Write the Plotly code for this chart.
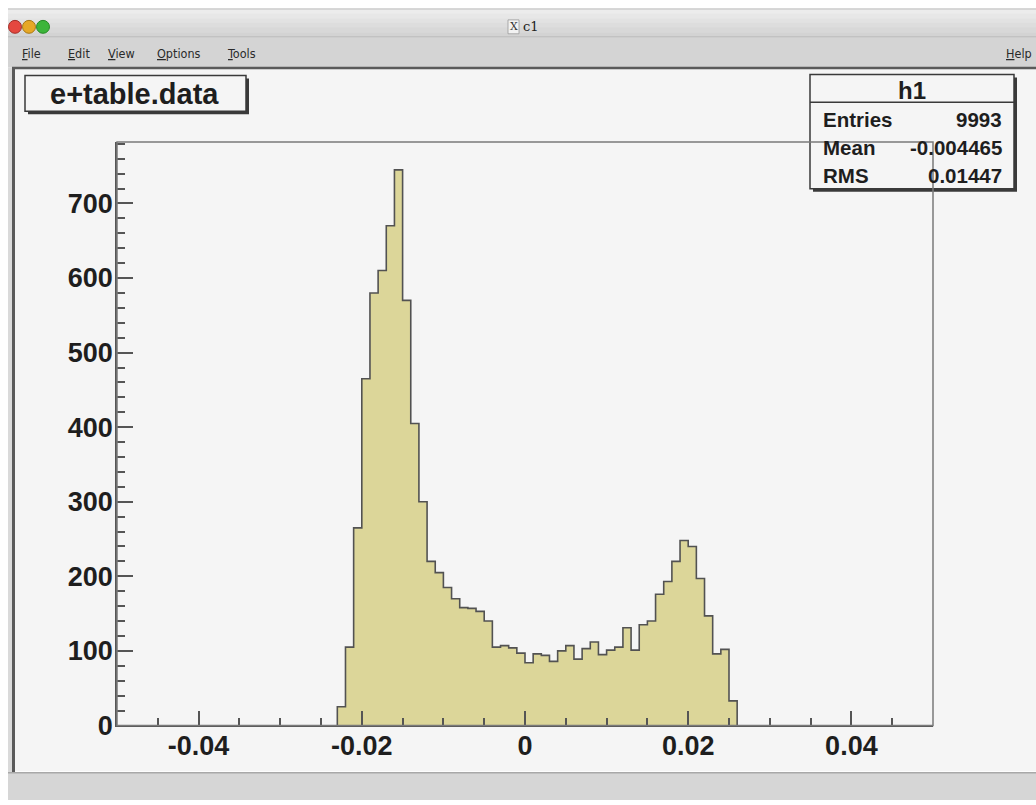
import numpy as np
import plotly.graph_objects as go

# ---- histogram h1: 100 bins on [-0.05, 0.05]; non-empty bins listed from x_first_bin ----
x_min, x_max, n_bins = -0.05, 0.05, 100
x_first_bin = -0.023
counts = [
    25, 105, 265, 465, 580, 610, 670, 745, 570, 405,
    300, 220, 205, 185, 170, 158, 157, 153, 140, 105,
    107, 104, 97, 84, 96, 94, 86, 100, 107, 89,
    103, 112, 95, 101, 105, 131, 101, 135, 140, 176,
    193, 220, 248, 240, 197, 147, 96, 102, 33,
]
stat_names = ["Entries", "Mean", "RMS"]
stat_values = ["9993", "-0.004465", "0.01447"]
hist_name = "h1"
pave_title = "e+table.data"
x_tick_vals = [-0.04, -0.02, 0, 0.02, 0.04]
x_tick_text = ["-0.04", "-0.02", "0", "0.02", "0.04"]
y_tick_vals = [0, 100, 200, 300, 400, 500, 600, 700]
menu_items = ["File", "Edit", "View", "Options", "Tools"]

W = 1036
H_LAYOUT = 805          # layout grid used for placing the window elements
H_FIG = 815             # rendered figure height
bin_w = (x_max - x_min) / n_bins
edges = x_first_bin + bin_w * np.arange(len(counts) + 1)
centers = 0.5 * (edges[:-1] + edges[1:])
y_top = 1.05 * max(counts)

FONT = "Liberation Sans, Arial, Helvetica, sans-serif"
MENU_FONT = "DejaVu Sans Condensed, DejaVu Sans, sans-serif"
FILL = "#dcd699"
EDGE = "#525252"
CANVAS = "#f5f5f5"
STRIP = "#d6d6d6"
INK = "#1e1e1e"


def px(x):
    return x / W


def py(y):
    return 1 - y / H_LAYOUT


fig = go.Figure()

# filled bins
fig.add_trace(go.Bar(
    x=centers, y=counts, width=bin_w,
    marker=dict(color=FILL, line=dict(width=0)),
    hoverinfo="skip",
))
# histogram outline drawn as a step line
step_x = np.array([edges[0]] + list(edges) + [edges[-1]])
step_y = np.array([0] + list(counts) + [counts[-1], 0])
fig.add_trace(go.Scatter(
    x=step_x, y=step_y, mode="lines",
    line=dict(color=EDGE, width=1.6, shape="hv"),
    hoverinfo="skip",
))

shapes = []
annotations = []


def rect(x0, y0, x1, y1, fill, line_color=None, lw=0, layer="below"):
    shapes.append(dict(
        type="rect", xref="paper", yref="paper",
        x0=px(x0), x1=px(x1), y0=py(y1), y1=py(y0),
        fillcolor=fill, line=dict(color=line_color or fill, width=lw),
        layer=layer,
    ))


def hline(x0, x1, y, color, lw=1, layer="above"):
    shapes.append(dict(type="line", xref="paper", yref="paper",
                       x0=px(x0), x1=px(x1), y0=py(y), y1=py(y),
                       line=dict(color=color, width=lw), layer=layer))


def vline(x, y0, y1, color, lw=1, layer="above"):
    shapes.append(dict(type="line", xref="paper", yref="paper",
                       x0=px(x), x1=px(x), y0=py(y0), y1=py(y1),
                       line=dict(color=color, width=lw), layer=layer))


def text(x, y, s, size, anchor="center", color=INK, bold=True, family=FONT):
    annotations.append(dict(
        xref="paper", yref="paper", x=px(x), y=py(y), text=s,
        showarrow=False, xanchor=anchor, yanchor="middle",
        font=dict(family=family, size=size, color=color,
                  weight="bold" if bold else "normal"),
    ))


# ---- window chrome ----
rect(0, 0, W, H_LAYOUT, "#ffffff")
# title bar (banded to suggest a gradient)
bands = ["#ececec", "#e7e7e7", "#e2e2e2", "#dddddd", "#d8d8d8", "#d3d3d3"]
bh = 28 / len(bands)
for i, c in enumerate(bands):
    rect(8, 9 + i * bh, W, 9 + (i + 1) * bh + 0.5, c)
hline(8, W, 9, "#b8b8b8", 1, layer="below")
# menu bar
rect(8, 37, W, 68, "#d4d4d4")
hline(8, W, 37, "#bcbcbc", 1, layer="below")
# window side strip and canvas
rect(8, 68, 15, H_LAYOUT, "#dadada")
rect(15, 68, W, 776, CANVAS)
hline(12, W, 68.5, "#5a5a5a", 2.5, layer="below")
vline(13.5, 68, 777, "#5a5a5a", 3, layer="below")
# bottom status strip
rect(8, 777, W, H_LAYOUT, STRIP)
hline(8, W, 777.5, "#a8a8a8", 1.5, layer="below")

# traffic-light buttons
for cx, c, edge in [(15, "#e5483f", "#a3302a"), (29, "#e6a826", "#a67818"), (43, "#3cb53a", "#278a25")]:
    shapes.append(dict(type="circle", xref="paper", yref="paper",
                       x0=px(cx - 6.5), x1=px(cx + 6.5), y0=py(27 + 6.5), y1=py(27 - 6.5),
                       fillcolor=c, line=dict(color=edge, width=1), layer="below"))
# window title
rect(508, 20, 519, 34, "#f2f2f2", "#9a9a9a", 0.8)
text(513.5, 27, "X", 11, color="#333333", bold=False, family="DejaVu Serif, serif")
text(531, 27, "c1", 13, color="#222222", bold=False, family="DejaVu Serif, serif")

# menu entries with mnemonic underline
menu_x = [20, 66, 106, 155, 225]
for mx, item in zip(menu_x, menu_items):
    text(mx, 54, "<u>" + item[0] + "</u>" + item[1:], 12.5, anchor="left",
         color="#2a2a2a", bold=False, family=MENU_FONT)
text(1034, 54, "<u>H</u>elp", 12.5, anchor="right", color="#2a2a2a", bold=False,
     family=MENU_FONT)

# ---- title pave ----
rect(28, 79, 249, 115, "#3a3a3a", layer="above")         # shadow
rect(25, 76, 246, 112, CANVAS, "#3a3a3a", 1.5, layer="above")
text(134, 95, pave_title, 29)

# ---- statistics box ----
rect(813, 78, 1017, 193, "#3a3a3a", layer="above")       # shadow
rect(810, 75, 1014, 190, CANVAS, "#3a3a3a", 1.5, layer="above")
hline(810, 1014, 103, "#3a3a3a", 1.5)
text(912, 91, hist_name, 24)
for i, (nm, val) in enumerate(zip(stat_names, stat_values)):
    yy = 120 + i * 28.5
    text(821, yy, nm, 20.5, anchor="left")
    text(1004, yy, val, 20.5, anchor="right")

# ---- plot frame (top and right edges) ----
shapes.append(dict(type="rect", xref="x domain", yref="y domain", x0=0, x1=1, y0=0, y1=1,
                   line=dict(color="#7a7a7a", width=1.5), layer="above"))

fig.update_layout(
    width=W, height=H_FIG,
    margin=dict(l=0, r=0, t=0, b=0),
    paper_bgcolor="#ffffff",
    plot_bgcolor=CANVAS,
    showlegend=False,
    bargap=0,
    shapes=shapes,
    annotations=annotations,
    xaxis=dict(
        domain=[px(117), px(933)],
        range=[x_min, x_max],
        tickvals=x_tick_vals, ticktext=x_tick_text,
        ticks="inside", ticklen=15, tickwidth=1.5, tickcolor="#555555",
        minor=dict(dtick=0.005, tick0=0, ticks="inside", ticklen=8,
                   tickwidth=1.5, tickcolor="#555555", showgrid=False),
        showline=True, linecolor="#555555", linewidth=1.5,
        showgrid=False, zeroline=False,
        tickfont=dict(family=FONT, size=27, color=INK, weight="bold"),
        ticklabelstandoff=-5,
        fixedrange=True,
    ),
    yaxis=dict(
        domain=[py(730), py(143)],
        range=[0, y_top],
        tickvals=y_tick_vals,
        ticks="inside", ticklen=16, tickwidth=1.5, tickcolor="#555555",
        minor=dict(dtick=20, tick0=0, ticks="inside", ticklen=8,
                   tickwidth=1.5, tickcolor="#555555", showgrid=False),
        showline=True, linecolor="#555555", linewidth=1.5,
        showgrid=False, zeroline=False,
        tickfont=dict(family=FONT, size=27, color=INK, weight="bold"),
        ticklabelstandoff=-3,
        fixedrange=True,
    ),
)

# page background continues the status strip below the figure
fig.write_html("out.html", post_script="document.body.style.background='%s';" % STRIP)
